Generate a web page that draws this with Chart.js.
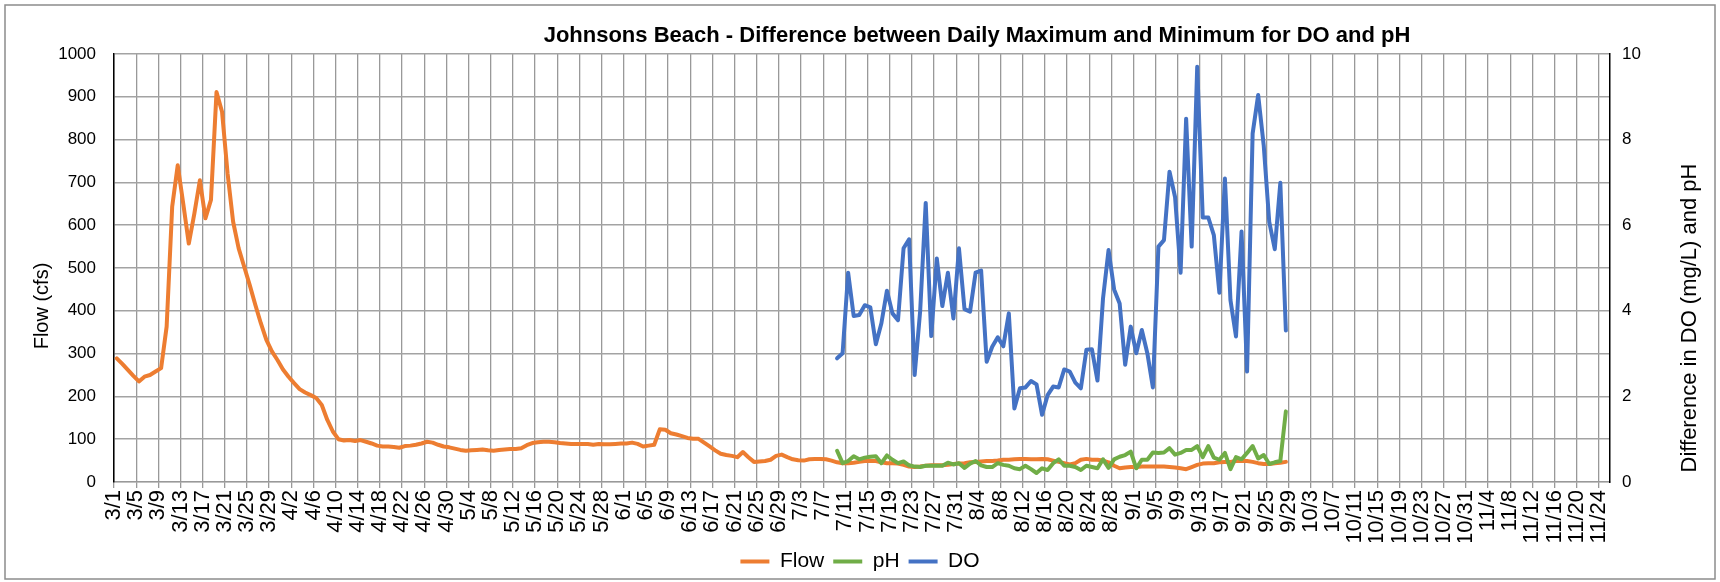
<!DOCTYPE html>
<html>
<head>
<meta charset="utf-8">
<title>Johnsons Beach - DO and pH daily range</title>
<script src="https://cdn.jsdelivr.net/npm/chart.js@4.4.1/dist/chart.umd.min.js"></script>
<style>
  html, body { margin: 0; padding: 0; background: #fff; }
  #wrap { position: relative; width: 1720px; height: 582px; }
</style>
</head>
<body>
<div id="wrap"><canvas id="chart" width="1720" height="582"></canvas></div>
<script>
/* Daily values.
   Flow starts on 3/1 (day 0); pH and DO start on 7/9 (day 130). */
const FLOW_START_DAY = 0;
const WQ_START_DAY = 130;

const flowCfs = [
  289, 276, 262, 248, 235, 246, 250, 258, 266, 363,
  643, 740, 650, 557, 627, 705, 616, 659, 911, 865,
  721, 608, 546, 503, 460, 414, 371, 332, 305, 285,
  263, 246, 231, 217, 209, 203, 196, 180, 145, 118,
  100, 97, 98, 96, 98, 94, 90, 85, 83, 83,
  82, 80, 84, 85, 87, 90, 94, 92, 87, 83,
  81, 78, 75, 73, 74, 75, 76, 74, 73, 75,
  76, 77, 77, 79, 86, 91, 93, 94, 94, 93,
  91, 90, 89, 89, 89, 89, 87, 89, 88, 88,
  89, 90, 90, 92, 89, 83, 85, 87, 123, 122,
  114, 111, 107, 103, 101, 101, 92, 83, 74, 66,
  63, 61, 58, 70, 58, 47, 48, 49, 52, 61,
  64, 58, 53, 51, 50, 53, 54, 54, 53, 50,
  46, 44, 44, 45, 47, 49, 49, 49, 46, 44,
  44, 43, 40, 36, 35, 36, 38, 39, 39, 39,
  40, 42, 43, 44, 46, 47, 48, 49, 49, 50,
  52, 52, 53, 54, 54, 53, 53, 54, 53, 50,
  47, 44, 41, 44, 52, 54, 52, 52, 50, 46,
  38, 32, 34, 35, 35, 36, 36, 36, 36, 36,
  35, 34, 32, 30, 35, 40, 43, 44, 44, 46,
  47, 47, 49, 49, 49, 47, 44, 42, 42, 44,
  45, 47
];

const phRange = [
  0.73, 0.44, 0.49, 0.60, 0.53, 0.57, 0.59, 0.60, 0.44, 0.62,
  0.52, 0.44, 0.48, 0.39, 0.36, 0.35, 0.38, 0.38, 0.38, 0.38,
  0.45, 0.41, 0.44, 0.33, 0.43, 0.49, 0.39, 0.35, 0.35, 0.44,
  0.40, 0.38, 0.32, 0.30, 0.38, 0.30, 0.21, 0.32, 0.28, 0.44,
  0.53, 0.38, 0.38, 0.35, 0.28, 0.38, 0.35, 0.32, 0.53, 0.33,
  0.53, 0.59, 0.63, 0.71, 0.32, 0.52, 0.52, 0.69, 0.68, 0.69,
  0.79, 0.64, 0.68, 0.75, 0.75, 0.84, 0.58, 0.84, 0.57, 0.52,
  0.68, 0.30, 0.58, 0.53, 0.68, 0.84, 0.55, 0.63, 0.42, 0.46,
  0.49, 1.65
];

const doRange = [
  2.89, 3.01, 4.89, 3.88, 3.90, 4.13, 4.08, 3.22, 3.71, 4.47,
  3.94, 3.78, 5.46, 5.67, 2.50, 4.00, 6.52, 3.41, 5.22, 4.11,
  4.89, 3.82, 5.46, 4.04, 3.98, 4.89, 4.94, 2.81, 3.16, 3.38,
  3.17, 3.94, 1.72, 2.19, 2.21, 2.36, 2.28, 1.57, 2.03, 2.23,
  2.21, 2.63, 2.58, 2.32, 2.19, 3.09, 3.10, 2.37, 4.29, 5.42,
  4.50, 4.17, 2.74, 3.63, 3.01, 3.55, 3.01, 2.21, 5.50, 5.65,
  7.25, 6.66, 4.89, 8.49, 5.50, 9.70, 6.18, 6.18, 5.77, 4.42,
  7.09, 4.25, 3.40, 5.85, 2.58, 8.14, 9.04, 7.87, 6.08, 5.44,
  6.99, 3.54
];

const seriesNames = ["Flow", "pH", "DO"];
const CHART_TITLE = "Johnsons Beach - Difference between Daily Maximum and Minimum for DO and pH";
const LEFT_TITLE = "Flow (cfs)";
const RIGHT_TITLE = "Difference in DO (mg/L) and pH";

// x axis runs 3/1 .. ~11/25, one label every 4 days
const AXIS_DAYS = 270;
const LABEL_STEP = 4;

// plot box in canvas pixels (matches the Excel layout)
const PLOT_LEFT = 114, PLOT_RIGHT = 1610, PLOT_BOTTOM = 482, PLOT_TOP = 54;
const PAD_BOTTOM = 0;
const LINE_W = 4;

const FONT = "'Liberation Sans', Arial, sans-serif";
Chart.defaults.font.family = FONT;
Chart.defaults.color = "#000";

function dayLabel(d) {
  const dt = new Date(2021, 2, 1 + d);
  return (dt.getMonth() + 1) + "/" + dt.getDate();
}

// each day sits in the middle of its slot, like Excel's date axis
const toPoints = (arr, start) => arr.map((v, i) => ({ x: start + i + 0.5, y: v }));

const frame = {
  id: "frame",
  beforeDraw(chart) {
    const ctx = chart.ctx;
    ctx.save();
    ctx.fillStyle = "#fff";
    ctx.fillRect(0, 0, chart.width, chart.height);
    ctx.strokeStyle = "#8c8c8c";
    ctx.lineWidth = 1.5;
    ctx.strokeRect(5, 5, chart.width - 10, chart.height - 8);
    ctx.restore();
  },
  afterDraw(chart) {
    const ctx = chart.ctx;
    ctx.save();
    ctx.fillStyle = "#000";
    ctx.textAlign = "center";
    ctx.textBaseline = "middle";
    ctx.font = "bold 22px " + FONT;
    ctx.fillText(CHART_TITLE, 977, 36);

    ctx.font = "20px " + FONT;
    ctx.translate(42, 306);
    ctx.rotate(-Math.PI / 2);
    ctx.fillText(LEFT_TITLE, 0, 0);
    ctx.restore();

    ctx.save();
    ctx.fillStyle = "#000";
    ctx.textAlign = "center";
    ctx.textBaseline = "middle";
    ctx.font = "22px " + FONT;
    ctx.translate(1690, 318);
    ctx.rotate(-Math.PI / 2);
    ctx.fillText(RIGHT_TITLE, 0, 0);
    ctx.restore();
  }
};

const gridGrey = "#a3a3a3";

new Chart(document.getElementById("chart"), {
  type: "line",
  data: {
    datasets: [
      { label: seriesNames[0], data: toPoints(flowCfs, FLOW_START_DAY), yAxisID: "y",
        borderColor: "#ED7D31", backgroundColor: "#ED7D31", borderWidth: LINE_W, order: 3 },
      { label: seriesNames[1], data: toPoints(phRange, WQ_START_DAY), yAxisID: "y2",
        borderColor: "#70AD47", backgroundColor: "#70AD47", borderWidth: LINE_W, order: 2 },
      { label: seriesNames[2], data: toPoints(doRange, WQ_START_DAY), yAxisID: "y2",
        borderColor: "#4472C4", backgroundColor: "#4472C4", borderWidth: LINE_W, order: 1 }
    ]
  },
  options: {
    responsive: false,
    animation: false,
    devicePixelRatio: 1,
    layout: { padding: { left: 0, right: 0, top: PLOT_TOP, bottom: PAD_BOTTOM } },
    elements: {
      line: { tension: 0, borderCapStyle: "round", borderJoinStyle: "round", fill: false },
      point: { radius: 0, hoverRadius: 0 }
    },
    scales: {
      x: {
        type: "linear",
        min: 0,
        max: AXIS_DAYS,
        grid: { color: "#999", lineWidth: 1.3, drawTicks: true, tickLength: 6, tickColor: "#999" },
        border: { color: "#999", width: 1.3 },
        ticks: {
          stepSize: LABEL_STEP,
          includeBounds: false,
          autoSkip: false,
          minRotation: 90,
          maxRotation: 90,
          padding: 2,
          font: { size: 22 },
          callback: v => dayLabel(v)
        },
        afterFit(s) { s.height = 582 - PLOT_BOTTOM - PAD_BOTTOM - s.chart.legend.height; }
      },
      y: {
        position: "left",
        min: 0,
        max: 1000,
        grid: { color: gridGrey, lineWidth: 1.6, drawTicks: false },
        border: { color: "#000", width: 1.5 },
        ticks: { stepSize: 100, padding: 18, font: { size: 17 }, callback: v => String(v) },
        afterFit(s) { s.width = PLOT_LEFT; }
      },
      y2: {
        position: "right",
        min: 0,
        max: 10,
        grid: { display: false, drawTicks: false },
        border: { color: "#000", width: 1.5 },
        ticks: { stepSize: 2, padding: 12, font: { size: 17 }, callback: v => String(v) },
        afterFit(s) { s.width = 1720 - PLOT_RIGHT; }
      }
    },
    plugins: {
      title: { display: false },
      tooltip: { enabled: false },
      legend: {
        position: "bottom",
        labels: {
          usePointStyle: true,
          pointStyle: "line",
          pointStyleWidth: 29,
          padding: 9,
          font: { size: 21 },
          color: "#000",
          sort: (a, b) => a.datasetIndex - b.datasetIndex
        }
      }
    }
  },
  plugins: [frame]
});
</script>
</body>
</html>
